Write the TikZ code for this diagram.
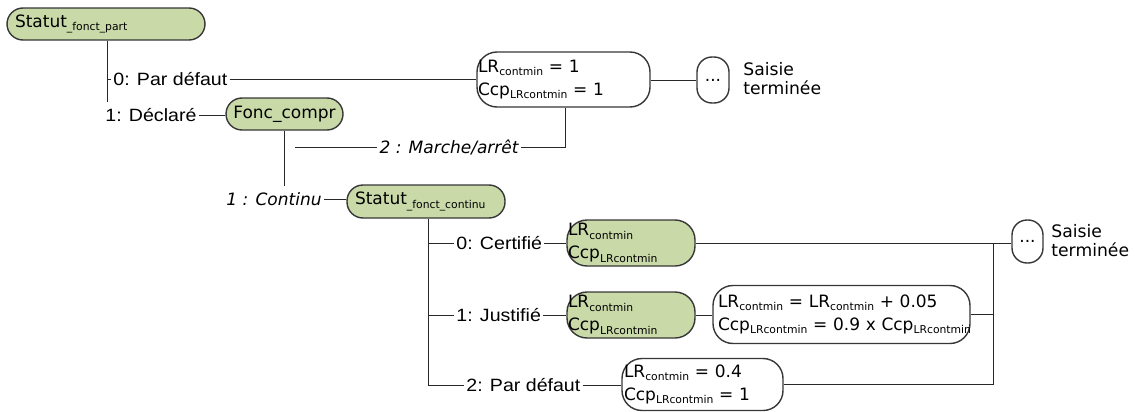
\documentclass[tikz,border=0pt]{standalone}
\usepackage{fontspec}
\setmainfont{DejaVu Sans}
\newfontfamily\labfont[FakeStretch=1.1]{Liberation Sans}
\usetikzlibrary{calc}
\definecolor{boxgreen}{RGB}{201,218,168}
\definecolor{edge}{RGB}{55,55,55}
\definecolor{wire}{RGB}{40,40,40}
% subscripts as set in the node texts
\newcommand\subs[1]{\raisebox{-1.7pt}{\fontsize{5.4}{6}\selectfont #1}}
\tikzset{
  box/.style={draw=edge, line width=0.7pt, rounded corners=8pt, inner ysep=0pt,
    font=\fontsize{8.5}{11.5}\selectfont},
  tallbox/.style={box, rounded corners=10pt},
  greenbox/.style={box, fill=boxgreen},
  whitebox/.style={box, fill=white},
  branch/.style={inner sep=1pt, font=\labfont\fontsize{8.9}{10}\selectfont},
  choice/.style={inner sep=1pt, font=\fontsize{8.5}{10}\selectfont\itshape},
  endnote/.style={inner sep=0pt, align=left, font=\fontsize{8.6}{9.5}\selectfont},
  wire/.style={draw=wire, line width=0.5pt}
}
\begin{document}
\begin{tikzpicture}[x=0.5pt,y=-0.5pt]
\useasboundingbox (0,0) rectangle (1135,412);

% top level
\node[greenbox, minimum width=99pt, minimum height=16pt, inner xsep=4pt,
      text width=91pt, align=left] (sp) at (106,24) {Statut\subs{\_fonct\_part}};
\coordinate (j1) at (107,79);
\node[branch, anchor=west] (l0) at (111,79) {0: Par défaut};
\node[branch, anchor=west, inner ysep=3pt] (l1) at (103,115) {1: Déclaré};
\node[greenbox, minimum width=58.5pt, minimum height=16pt] (fc) at (284.5,114) {Fonc\_compr};

% default value branch
\node[whitebox, tallbox, minimum width=86.5pt, minimum height=27.5pt, inner xsep=0.5pt,
      text width=85.5pt, align=left] (lr1) at (563.5,79.5)
  {\mbox{LR\subs{contmin} = 1}\\\mbox{Ccp\subs{LRcontmin} = 1}};
\node[whitebox, minimum width=16pt, minimum height=23pt, inner xsep=0pt,
      rounded corners=7.5pt] (d1) at (713,80) {...};
\node[endnote, anchor=west] (st1) at (743,79) {Saisie\\terminée};

% on/off compressor
\coordinate (m2) at (565,147);
\node[choice, anchor=east] (l2) at (521,147) {2 : Marche/arrêt};
\coordinate (free) at (295,147);

% continuous compressor
\node[choice, anchor=east, inner ysep=3pt] (lc) at (324,199) {1 : Continu};
\node[greenbox, minimum width=79pt, minimum height=16.5pt, inner xsep=4pt,
      text width=71pt, align=left] (sc) at (426,201.5) {Statut\subs{\_fonct\_continu}};
\coordinate (j2) at (428,218);
\node[branch, anchor=west] (b0) at (454,243) {0: Certifié};
\node[branch, anchor=west] (b1) at (454,315) {1: Justifié};
\node[branch, anchor=west] (b2) at (464,385) {2: Par défaut};

\node[greenbox, tallbox, minimum width=64pt, minimum height=23pt, inner xsep=0.5pt,
      text width=63pt, align=left] (g0) at (631,243)
  {\mbox{LR\subs{contmin}}\\\mbox{Ccp\subs{LRcontmin}}};
\node[greenbox, tallbox, minimum width=64pt, minimum height=23pt, inner xsep=0.5pt,
      text width=63pt, align=left] (g1) at (631,315)
  {\mbox{LR\subs{contmin}}\\\mbox{Ccp\subs{LRcontmin}}};
\node[whitebox, tallbox, minimum width=128.5pt, minimum height=29pt, inner xsep=2.5pt,
      text width=123.5pt, align=left] (w1) at (841.5,314.5)
  {\mbox{LR\subs{contmin} = LR\subs{contmin} + 0.05}\\\mbox{Ccp\subs{LRcontmin} = 0.9 x Ccp\subs{LRcontmin}}};
\node[whitebox, tallbox, minimum width=80.5pt, minimum height=26pt, inner xsep=1pt,
      text width=78.5pt, align=left] (w2) at (702.5,384.5)
  {\mbox{LR\subs{contmin} = 0.4}\\\mbox{Ccp\subs{LRcontmin} = 1}};
\coordinate (j3) at (993,243);
\node[whitebox, minimum width=15.5pt, minimum height=21.5pt, inner xsep=0pt,
      rounded corners=7.5pt] (d2) at (1027.5,241.5) {...};
\node[endnote, anchor=west] (st2) at (1051,241) {Saisie\\terminée};

% connectors
\draw[wire] (sp.south -| j1) -- (j1 |- l1.north);
\draw[wire] (j1) -- (l0.west);
\draw[wire] (l0.east) -- (l0.east -| lr1.west);
\draw[wire] (l1.east) -- (l1.east -| fc.west);
\draw[wire] (lr1.east |- d1.west) -- (d1.west);
\draw[wire] (lr1.south -| m2) |- (l2.east);
\draw[wire] (l2.west) -- (free);
\draw[wire] (fc.south) -- (fc.south |- lc.north);
\draw[wire] (lc.east) -- (lc.east -| sc.west);
\draw[wire] (sc.south -| j2) |- (b2.west);
\draw[wire] (b0.west -| j2) -- (b0.west);
\draw[wire] (b1.west -| j2) -- (b1.west);
\draw[wire] (b0.east) -- (b0.east -| g0.west);
\draw[wire] (b1.east) -- (b1.east -| g1.west);
\draw[wire] (b2.east) -- (b2.east -| w2.west);
\draw[wire] (g0.east) -- (g0.east -| d2.west);
\draw[wire] (g1.east) -- (g1.east -| w1.west);
\draw[wire] (w1.east) -- (w1.east -| j3);
\draw[wire] (w2.east) -- (w2.east -| j3);
\draw[wire] (j3) -- (j3 |- w2.east);
\end{tikzpicture}
\end{document}
